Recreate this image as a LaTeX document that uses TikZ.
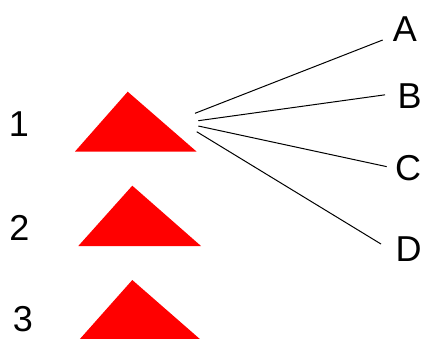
\documentclass[tikz,border=0pt]{standalone}
\usepackage{fontspec}
\setmainfont{Liberation Sans}
\usepackage{xcolor}
\usepackage{tikz}
\definecolor{trired}{HTML}{FF0000}

\begin{document}
\begin{tikzpicture}[x=1pt,y=-1pt,
  tri/.style={fill=trired,draw=none},
  num/.style={anchor=base,inner sep=0pt,font=\fontsize{36}{40}\selectfont},
  letter/.style={anchor=base west,inner sep=0pt,font=\fontsize{36}{40}\selectfont},
  wire/.style={line width=1pt,black}]
\useasboundingbox (0,0) rectangle (422,338);
\fill[tri] (75,151.5) -- (127.7,91.7) -- (196.5,151.5) -- cycle;
\fill[tri] (78.3,246) -- (132.3,185.7) -- (201,246) -- cycle;
\fill[tri] (79,340) -- (132.3,280) -- (201,340) -- cycle;
\node[num] (n1) at (19,136.7) {1};
\node[num] (n2) at (19.5,240) {2};
\node[num] (n3) at (23,331) {3};
\coordinate (s1) at (195,113.3);
\coordinate (s2) at (198.3,120.7);
\coordinate (s3) at (198.3,126);
\coordinate (s4) at (196.7,131.7);
\node[letter] (A) at (392.7,41.7) {A};
\node[letter] (B) at (397.3,108.3) {B};
\node[letter] (C) at (394.9,180.8) {C};
\node[letter] (D) at (395.5,261.7) {D};
\draw[wire,shorten >=10.7pt] (s1)--(A.209);
\draw[wire,shorten >=12.4pt] (s2)--(B.167);
\draw[wire,shorten >=8.4pt] (s3)--(C.west);
\draw[wire,shorten >=17pt] (s4)--(D.195);
\end{tikzpicture}
\end{document}
